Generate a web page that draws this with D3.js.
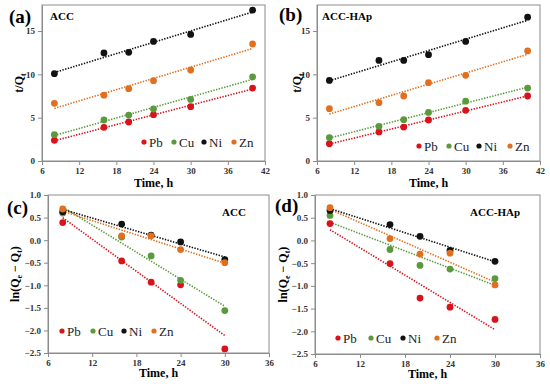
<!DOCTYPE html>
<html>
<head>
<meta charset="utf-8">
<script src="https://cdn.jsdelivr.net/npm/d3@7"></script>
<style>
  body { margin: 0; background: #fff; }
</style>
</head>
<body>
<div id="chart-area"></div>
<script>
// data
var metals = ["Pb", "Cu", "Ni", "Zn"];
var colors = ["#d9121b", "#5b9a3c", "#111111", "#e0701f"];

var timeSecond = [8, 16, 20, 24, 30, 40];
var accPb = [2.38, 3.88, 4.5, 5.35, 6.27, 8.42];
var accCu = [3.04, 4.73, 5.3, 6.0, 7.1, 9.7];
var accNi = [10.08, 12.46, 12.54, 13.8, 14.6, 17.4];
var accZn = [6.65, 7.6, 8.35, 9.27, 10.5, 13.5];

var hapPb = [2.0, 3.35, 3.92, 4.73, 5.85, 7.5];
var hapCu = [2.7, 4.0, 4.77, 5.6, 6.9, 8.42];
var hapNi = [9.3, 11.6, 11.6, 12.27, 13.8, 16.6];
var hapZn = [6.04, 6.73, 7.5, 9.04, 9.88, 12.7];

var timeFirst = [8, 16, 20, 24, 30];
var lnAccPb = [0.39, -0.46, -0.93, -0.99, -2.41];
var lnAccCu = [0.6, 0.07, -0.35, -0.89, -1.56];
var lnAccNi = [0.63, 0.355, 0.11, -0.04, -0.43];
var lnAccZn = [0.69, 0.095, 0.095, -0.21, -0.5];

var lnHapPb = [0.37, -0.51, -1.27, -1.47, -1.74];
var lnHapCu = [0.55, -0.2, -0.55, -0.63, -0.84];
var lnHapNi = [0.66, 0.35, 0.09, -0.22, -0.46];
var lnHapZn = [0.72, 0.04, -0.3, -0.28, -0.98];

var xTicksA = [6, 12, 18, 24, 30, 36, 42];
var yTicksA = [0, 5, 10, 15];
var xTicksC = [6, 12, 18, 24, 30, 36];
var yTicksC = [1.0, 0.5, 0.0, -0.5, -1.0, -1.5, -2.0, -2.5];

var serif = "'Liberation Serif', 'Times New Roman', serif";

var panels = [
  {tag: "(a)", name: "ACC", box: [42, 5, 265, 161], xd: [6, 42], yd: [0, 18], xt: xTicksA, yt: yTicksA, fmt: d3.format("d"),
   t: timeSecond, series: [accPb, accCu, accNi, accZn], ylab: "first", ylOff: -19, xlOff: 26,
   tagPos: [9, 23], namePos: [50, 20], legY: 142, legX: [144, 174, 204, 234]},
  {tag: "(b)", name: "ACC-HAp", box: [317, 5, 540, 161], xd: [6, 42], yd: [0, 18], xt: xTicksA, yt: yTicksA, fmt: d3.format("d"),
   t: timeSecond, series: [hapPb, hapCu, hapNi, hapZn], ylab: "first", ylOff: -16, xlOff: 26,
   tagPos: [279, 21], namePos: [322, 20], legY: 146, legX: [419, 449, 479, 510]},
  {tag: "(c)", name: "ACC", box: [48, 195, 269, 353], xd: [6, 36], yd: [-2.5, 1.0], xt: xTicksC, yt: yTicksC, fmt: d3.format(".1f"),
   t: timeFirst, series: [lnAccPb, lnAccCu, lnAccNi, lnAccZn], ylab: "second", ylOff: -29, xlOff: 24,
   tagPos: [7, 214], namePos: [222, 216], legY: 331, legX: [62, 93, 124, 154]},
  {tag: "(d)", name: "ACC-HAp", box: [315, 195, 540, 354], xd: [6, 36], yd: [-2.5, 1.0], xt: xTicksC, yt: yTicksC, fmt: d3.format(".1f"),
   t: timeFirst, series: [lnHapPb, lnHapCu, lnHapNi, lnHapZn], ylab: "second", ylOff: -28, xlOff: 24,
   tagPos: [275, 212], namePos: [470, 216], legY: 338, legX: [338, 371, 403, 437]}
];

var svg = d3.select("#chart-area").append("svg")
  .attr("width", 550)
  .attr("height", 384)
  .style("font-family", serif);

function fit(xs, ys) {
  var mx = d3.mean(xs), my = d3.mean(ys);
  var sxy = d3.sum(xs, (d, i) => (d - mx) * (ys[i] - my));
  var sxx = d3.sum(xs, (d) => (d - mx) * (d - mx));
  var b = sxy / sxx;
  return {a: my - b * mx, b: b};
}

panels.forEach((p) => {
  var x = d3.scaleLinear().domain(p.xd).range([p.box[0], p.box[2]]);
  var y = d3.scaleLinear().domain(p.yd).range([p.box[3], p.box[1]]);
  var g = svg.append("g");

  // frame
  g.append("rect")
    .attr("x", p.box[0]).attr("y", p.box[1])
    .attr("width", p.box[2] - p.box[0]).attr("height", p.box[3] - p.box[1])
    .attr("fill", "none").attr("stroke", "#8c8c8c").attr("stroke-width", 1);

  var xAxis = d3.axisBottom(x).tickValues(p.xt).tickSize(4).tickSizeOuter(0).tickPadding(3).tickFormat(d3.format("d"));
  var yAxis = d3.axisLeft(y).tickValues(p.yt).tickSize(4).tickSizeOuter(0).tickPadding(3).tickFormat(p.fmt);

  var gx = g.append("g").attr("transform", "translate(0," + p.box[3] + ")").call(xAxis);
  var gy = g.append("g").attr("transform", "translate(" + p.box[0] + ",0)").call(yAxis);
  [gx, gy].forEach((a) => {
    a.attr("font-family", null).attr("font-size", null);
    a.selectAll("path, line").attr("stroke", "#8c8c8c");
    a.selectAll("text").attr("fill", "#333").style("font-size", "9px").style("font-weight", "bold")
      .style("font-family", serif);
  });

  // trend lines
  p.series.forEach((s, i) => {
    var f = fit(p.t, s);
    var t0 = d3.min(p.t), t1 = d3.max(p.t);
    g.append("line")
      .attr("x1", x(t0)).attr("y1", y(f.a + f.b * t0))
      .attr("x2", x(t1)).attr("y2", y(f.a + f.b * t1))
      .attr("stroke", colors[i]).attr("stroke-width", 1.6)
      .attr("stroke-dasharray", "1.4,1.4");
  });

  // points
  p.series.forEach((s, i) => {
    g.selectAll(null).data(s).enter().append("circle")
      .attr("cx", (d, j) => x(p.t[j]))
      .attr("cy", (d) => y(d))
      .attr("r", 3.4)
      .attr("fill", colors[i]);
  });

  // legend
  metals.forEach((m, i) => {
    g.append("circle").attr("cx", p.legX[i]).attr("cy", p.legY).attr("r", 2.6).attr("fill", colors[i]);
    g.append("text").attr("x", p.legX[i] + 5).attr("y", p.legY + 4.5)
      .style("font-family", serif).style("font-size", "13px").attr("fill", "#222").text(m);
  });

  // panel tag and sample name
  g.append("text").attr("x", p.tagPos[0]).attr("y", p.tagPos[1])
    .style("font-family", serif).style("font-size", "19px").style("font-weight", "bold").text(p.tag);
  g.append("text").attr("x", p.namePos[0]).attr("y", p.namePos[1])
    .style("font-family", serif).style("font-size", "11px").style("font-weight", "bold").text(p.name);

  // axis labels
  var cx = (p.box[0] + p.box[2]) / 2;
  g.append("text").attr("x", cx).attr("y", p.box[3] + p.xlOff)
    .attr("text-anchor", "middle")
    .style("font-family", serif).style("font-size", "12px").style("font-weight", "bold")
    .text("Time, h");

  var cy = (p.box[1] + p.box[3]) / 2;
  var yl = g.append("text")
    .attr("transform", "translate(" + (p.box[0] + p.ylOff) + "," + cy + ") rotate(-90)")
    .attr("text-anchor", "middle")
    .style("font-family", serif).style("font-size", "12px").style("font-weight", "bold");
  if (p.ylab === "first") {
    yl.append("tspan").text("t/Q");
    yl.append("tspan").style("font-size", "8px").attr("dy", 3).text("t");
  } else {
    yl.append("tspan").text("ln(Q");
    yl.append("tspan").style("font-size", "8px").attr("dy", 3).text("e");
    yl.append("tspan").attr("dy", -3).text(" \u2212 Q");
    yl.append("tspan").style("font-size", "8px").attr("dy", 3).text("t");
    yl.append("tspan").attr("dy", -3).text(")");
  }
});
</script>
</body>
</html>
